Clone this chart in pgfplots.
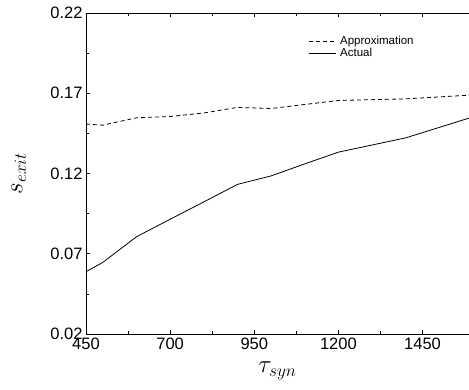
\documentclass[border=0pt]{standalone}
\usepackage{fontspec}
\setmainfont{Liberation Sans}
\usepackage{pgfplots}
\pgfplotsset{compat=1.18}
\begin{document}
\begin{tikzpicture}
\useasboundingbox (-86pt,-56pt) rectangle (383pt,334pt);
\begin{axis}[
  scale only axis,
  width=383pt, height=321pt,
  xmin=450, xmax=1588, ymin=0.02, ymax=0.22,
  axis x line*=box, axis y line*=left,
  xtick={450,700,950,1200,1450},
  ytick={0.02,0.07,0.12,0.17,0.22},
  minor x tick num=1, minor y tick num=1,
  major tick length=4pt, minor tick length=3pt,
  tick style={black, line width=0.6pt},
  axis line style={black, line width=0.8pt},
  tick label style={font=\fontsize{16.5}{18}\selectfont},
  /pgf/number format/assume math mode=true,
  xticklabel style={/pgf/number format/.cd, fixed, set thousands separator={}},
  yticklabel style={/pgf/number format/.cd, fixed, fixed zerofill, precision=2},
  xlabel={$\tau_{syn}$},
  ylabel={$s_{exit}$},
  every axis x label/.style={at={(axis description cs:0.5,-0.115)}, anchor=center, font=\fontsize{24}{28}\selectfont},
  every axis y label/.style={at={(axis description cs:-0.175,0.5)}, rotate=90, anchor=center, font=\fontsize{24}{28}\selectfont},
  legend style={draw=none, fill=none, at={(axis description cs:0.58,0.935)}, anchor=north west,
    font=\fontsize{11.5}{13}\selectfont, row sep=-1.5pt, inner sep=0pt,
    nodes={inner xsep=4pt}},
  legend cell align=left,
  legend image code/.code={\draw[#1] (0pt,0pt) -- (27pt,0pt);},
]
\addplot[black, line width=0.8pt, dash pattern=on 4pt off 3pt] coordinates {
 (450,0.1508) (500,0.1501) (600,0.1547) (700,0.1555) (800,0.1577) (900,0.1612)
 (1000,0.1605) (1100,0.1630) (1200,0.1655) (1400,0.1665) (1588,0.1688)};
\addlegendentry{Approximation}
\addplot[black, line width=0.8pt] coordinates {
 (450,0.0588) (500,0.0646) (600,0.0806) (700,0.0915) (800,0.1023) (900,0.1132)
 (1000,0.1185) (1100,0.1260) (1200,0.1333) (1400,0.1422) (1588,0.1545)};
\addlegendentry{Actual}
\end{axis}
\end{tikzpicture}
\end{document}
